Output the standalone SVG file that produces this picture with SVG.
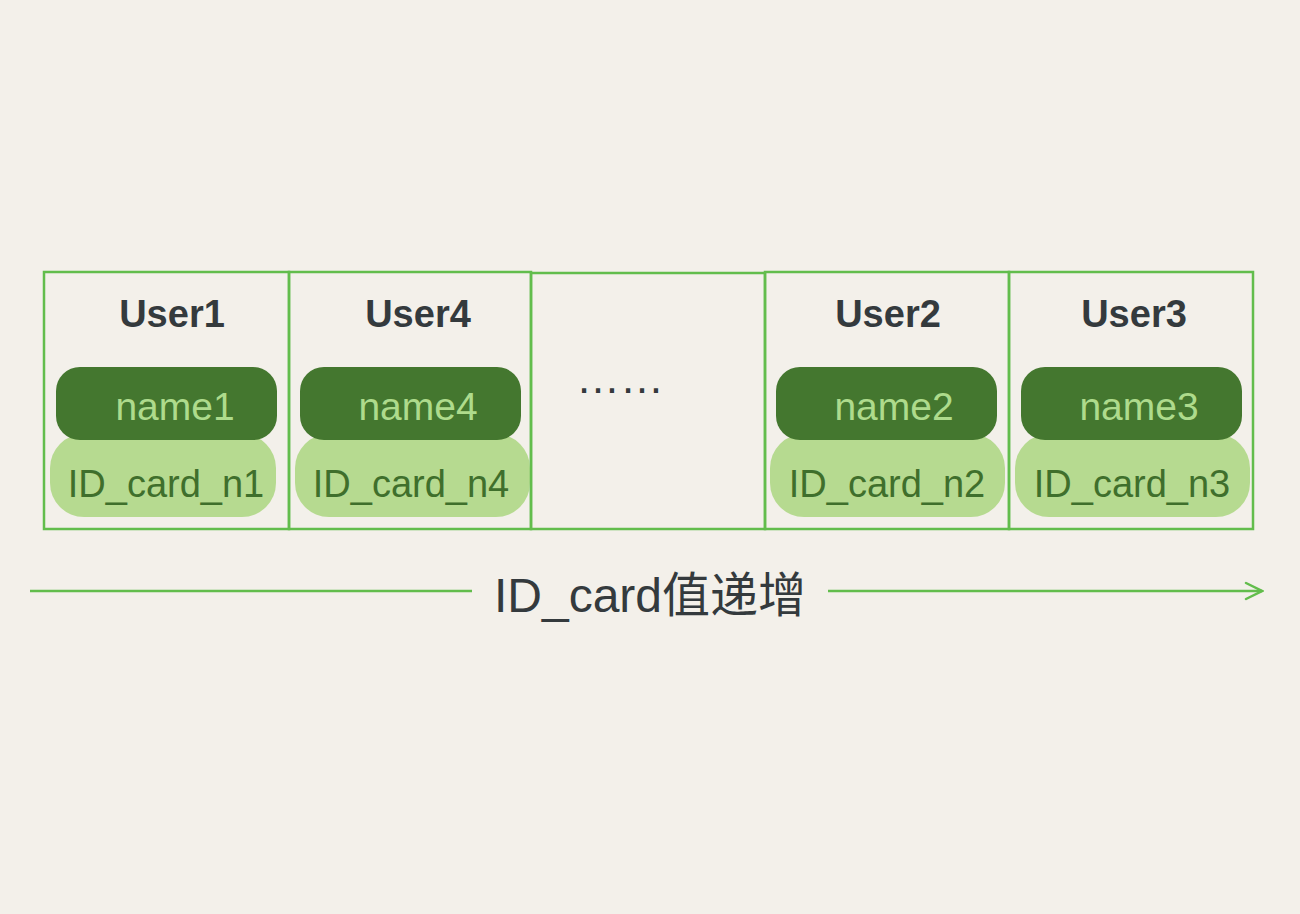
<svg xmlns="http://www.w3.org/2000/svg" width="1300" height="914" viewBox="0 0 1300 914">
<defs>
<style>
.cell{fill:none;stroke:#62bd4c;stroke-width:2.5}
.dark{fill:#44772f}
.light{fill:#b6da90}
.ut{font-family:"Liberation Sans","Noto Sans CJK SC",sans-serif;font-size:38px;font-weight:bold;fill:#343a3d;text-anchor:middle}
.nt{font-family:"Liberation Sans","Noto Sans CJK SC",sans-serif;font-size:39px;fill:#aedb8c;text-anchor:middle}
.it{font-family:"Liberation Sans","Noto Sans CJK SC",sans-serif;font-size:38px;fill:#3f6f2c;text-anchor:middle}
.lt{font-family:"Liberation Sans","Noto Sans CJK SC",sans-serif;font-size:48px;fill:#343a3d;text-anchor:middle}
.dots{font-family:"Liberation Sans","Noto Sans CJK SC",sans-serif;font-size:44px;fill:#343a3d}
.ln{stroke:#62bd4c;stroke-width:2.5;fill:none}
</style>
<marker id="ah" viewBox="0 0 20 20" refX="18" refY="10" markerWidth="20" markerHeight="20" markerUnits="userSpaceOnUse" orient="auto">
<path d="M2,2 L18,10 L2,18" fill="none" stroke="#62bd4c" stroke-width="2.5" stroke-linecap="round"/>
</marker>
</defs>
<rect width="1300" height="914" fill="#f3f0ea"/>
<g id="user1">
<rect class="cell" x="44" y="272" width="245" height="257"/>
<text class="ut" x="172" y="327">User1</text>
<rect class="light" x="50" y="434" width="226" height="83" rx="34"/>
<rect class="dark" x="56" y="367" width="221" height="73" rx="24"/>
<text class="nt" x="175" y="420">name1</text>
<text class="it" x="166" y="497">ID_card_n1</text>
</g>
<g id="user4">
<rect class="cell" x="289" y="272" width="242" height="257"/>
<text class="ut" x="418" y="327">User4</text>
<rect class="light" x="295" y="434" width="235" height="83" rx="34"/>
<rect class="dark" x="300" y="367" width="221" height="73" rx="24"/>
<text class="nt" x="418" y="420">name4</text>
<text class="it" x="411" y="497">ID_card_n4</text>
</g>
<g id="ellipsis">
<rect class="cell" x="531" y="273" width="234" height="256"/>
<text class="dots" x="576" y="393">……</text>
</g>
<g id="user2">
<rect class="cell" x="765" y="272" width="244" height="257"/>
<text class="ut" x="888" y="327">User2</text>
<rect class="light" x="770" y="434" width="235" height="83" rx="34"/>
<rect class="dark" x="776" y="367" width="221" height="73" rx="24"/>
<text class="nt" x="894" y="420">name2</text>
<text class="it" x="887" y="497">ID_card_n2</text>
</g>
<g id="user3">
<rect class="cell" x="1009" y="272" width="244" height="257"/>
<text class="ut" x="1134" y="327">User3</text>
<rect class="light" x="1015" y="434" width="235" height="83" rx="34"/>
<rect class="dark" x="1021" y="367" width="221" height="73" rx="24"/>
<text class="nt" x="1139" y="420">name3</text>
<text class="it" x="1132" y="497">ID_card_n3</text>
</g>
<g id="connectors">
<line class="ln" x1="30" y1="591" x2="472" y2="591"/>
<line class="ln" x1="828" y1="591" x2="1262" y2="591" marker-end="url(#ah)"/>
</g>
<text class="lt" x="650" y="612">ID_card值递增</text>
</svg>
